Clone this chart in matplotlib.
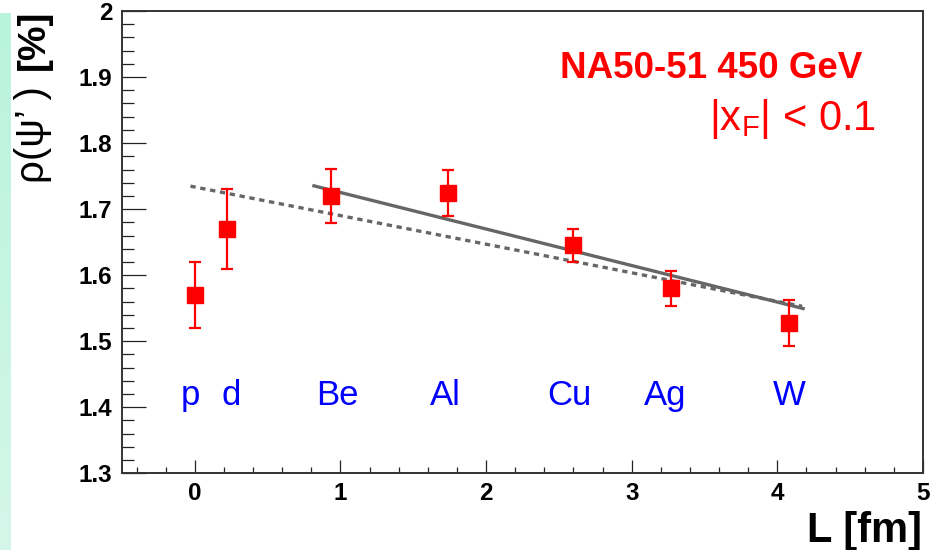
import numpy as np
import matplotlib
matplotlib.use("Agg")
import matplotlib.pyplot as plt
from matplotlib.ticker import MultipleLocator, FixedLocator, FixedFormatter

plt.rcParams['font.family'] = ['Liberation Sans', 'DejaVu Sans']
plt.rcParams['mathtext.fontset'] = 'custom'
plt.rcParams['mathtext.rm'] = 'Liberation Sans'
plt.rcParams['mathtext.it'] = 'Liberation Sans'

# Nuclear path length L [fm] and psi' / J/psi ratio [%]
targets = ["p", "d", "Be", "Al", "Cu", "Ag", "W"]
L_fm = [0.0, 0.224, 0.937, 1.738, 2.600, 3.272, 4.079]
rho = [1.570, 1.670, 1.720, 1.725, 1.645, 1.580, 1.528]
rho_err = [0.050, 0.060, 0.041, 0.035, 0.025, 0.026, 0.035]

# Target label positions along L
label_x = [-0.03, 0.247, 0.98, 1.72, 2.575, 3.23, 4.08]
label_y = 1.403

# Axis tick values and labels
x_ticks = [0, 1, 2, 3, 4, 5]
x_ticklabels = ["0", "1", "2", "3", "4", "5"]
y_ticks = [1.3, 1.4, 1.5, 1.6, 1.7, 1.8, 1.9, 2.0]
y_ticklabels = ["1.3", "1.4", "1.5", "1.6", "1.7", "1.8", "1.9", "2"]

# Absorption fits drawn as straight lines: (intercept, slope, L range)
fit_all = (1.7335, -0.0433, (-0.03, 4.17))
fit_heavy = (1.7805, -0.0553, (0.818, 4.177))

fig = plt.figure(figsize=(9.31, 5.5), dpi=100)

# Mint side strip
strip = fig.add_axes([0, 0, 11 / 931, 1 - 13 / 550])
grad = np.linspace(0, 1, 256).reshape(-1, 1)
top_c = np.array([185, 243, 220]) / 255
bot_c = np.array([212, 247, 234]) / 255
img = top_c[None, None, :] * (1 - grad[..., None]) + bot_c[None, None, :] * grad[..., None]
strip.imshow(img, aspect='auto', extent=[0, 1, 0, 1], origin='upper')
strip.axis('off')

ax = fig.add_axes([122 / 931, 1 - 473.3 / 550, (923 - 122) / 931, (473.3 - 11) / 550])

# Fit lines
a, b, (x0, x1) = fit_all
xs = np.array([x0, x1])
ax.plot(xs, a + b * xs, color='#666666', lw=2.4, dashes=(1.6, 1.4), zorder=2,
        dash_capstyle='butt')
a, b, (x0, x1) = fit_heavy
xs = np.array([x0, x1])
ax.plot(xs, a + b * xs, color='#666666', lw=2.4, zorder=2)

ax.errorbar(L_fm, rho, yerr=rho_err, fmt='s', color='#ff0000', ms=11.5,
            mec='#ff0000', elinewidth=1.6, capsize=4.3, capthick=1.6, zorder=3)

for name, x in zip(targets, label_x):
    ax.text(x, label_y, name, color='#0000ff', fontsize=25, ha='center',
            va='baseline')

ax.text(862, 550 - 78, "NA50-51 450 GeV", transform=None, color='#ff0000',
        fontsize=26.5, fontweight='bold', ha='right', va='baseline')
ax.text(876, 550 - 130, r"$\mathregular{|x_F|}$ < 0.1", transform=None,
        color='#ff0000', fontsize=30, ha='right', va='baseline')

# Axes styling
for side in ['left', 'bottom', 'top', 'right']:
    ax.spines[side].set_linewidth(1.4)
    ax.spines[side].set_color('#333333')

ax.set_xlim(-0.5, 5)
ax.set_ylim(1.3, 2.0)
ax.xaxis.set_major_locator(FixedLocator(x_ticks))
ax.xaxis.set_major_formatter(FixedFormatter(x_ticklabels))
ax.yaxis.set_major_locator(FixedLocator(y_ticks))
ax.yaxis.set_major_formatter(FixedFormatter(y_ticklabels))
ax.xaxis.set_minor_locator(MultipleLocator(0.2))
ax.yaxis.set_minor_locator(MultipleLocator(0.02))
ax.tick_params(axis='both', which='both', direction='in', top=False, right=False,
               width=0.9, color='#222222')
ax.tick_params(axis='both', which='major', labelsize=17.5)
ax.tick_params(axis='y', which='major', length=17, pad=7)
ax.tick_params(axis='y', which='minor', length=8.6)
ax.tick_params(axis='x', which='major', length=9.4, pad=6.5)
ax.tick_params(axis='x', which='minor', length=4.3)
for lab in ax.get_xticklabels() + ax.get_yticklabels():
    lab.set_fontweight('bold')

# Axis titles
fig.text(922 / 931, 1 - 542 / 550, "L [fm]", fontsize=30, fontweight='bold',
         ha='right', va='baseline')
fig.text(52 / 931, 1 - 183 / 550, "ρ(ψ’ )", fontsize=29, rotation=90,
         ha='left', va='bottom', rotation_mode='anchor')
fig.text(52 / 931, 1 - 70 / 550, "[%]", fontsize=28, fontweight='bold',
         rotation=90, ha='left', va='bottom', rotation_mode='anchor')

fig.savefig("out.png", dpi=100)
